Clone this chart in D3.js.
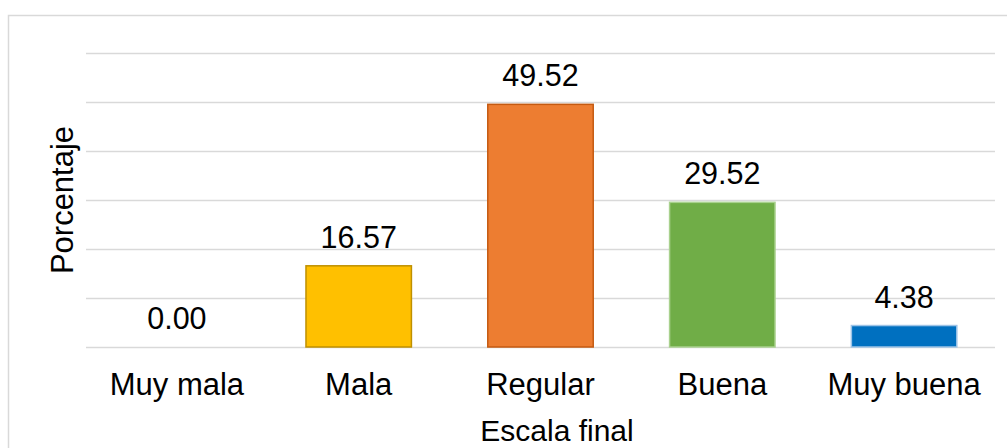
<!DOCTYPE html>
<html>
<head>
<meta charset="utf-8">
<script src="https://cdn.jsdelivr.net/npm/d3@7"></script>
<style>
html,body{margin:0;padding:0;background:#fff;}
svg{display:block;font-family:"Liberation Sans",Arial,sans-serif;}
</style>
</head>
<body>
<svg id="chart" width="1007" height="448"></svg>
<script>
const categories = ["Muy mala", "Mala", "Regular", "Buena", "Muy buena"];
const values = [0.00, 16.57, 49.52, 29.52, 4.38];
const labels = ["0.00", "16.57", "49.52", "29.52", "4.38"];
const colors = ["#FFC000", "#FFC000", "#ED7D31", "#70AD47", "#0070C0"];
const strokes = ["#BF9000", "#BF9000", "#C55A11", "#A9D18E", "#9DC3E6"];
const yTicks = [0, 10, 20, 30, 40, 50, 60];
const xTitle = "Escala final";
const yTitle = "Porcentaje";

const svg = d3.select("#chart");
const plot = {left: 86, right: 995, top: 53, bottom: 347};

// outer chart border
svg.append("rect")
  .attr("x", 8.5).attr("y", 15.5)
  .attr("width", 1020).attr("height", 460)
  .attr("fill", "none").attr("stroke", "#d9d9d9").attr("stroke-width", 1.5);

const x = d3.scaleBand().domain(categories)
  .range([plot.left, plot.right]).paddingInner(0.42).paddingOuter(0.21);
const y = d3.scaleLinear().domain([0, 60]).range([plot.bottom, plot.top]);

// gridlines
svg.append("g").selectAll("line").data(yTicks).join("line")
  .attr("x1", plot.left).attr("x2", plot.right)
  .attr("y1", d => Math.round(y(d)) + 0.5).attr("y2", d => Math.round(y(d)) + 0.5)
  .attr("stroke", "#d9d9d9").attr("stroke-width", 1.5);

// bars
svg.append("g").selectAll("rect").data(values).join("rect")
  .attr("x", (d, i) => x(categories[i]))
  .attr("width", x.bandwidth())
  .attr("y", d => y(d))
  .attr("height", d => y(0) - y(d))
  .attr("fill", (d, i) => colors[i])
  .attr("stroke", (d, i) => strokes[i])
  .attr("stroke-width", 1.5)
  .attr("visibility", d => d > 0 ? "visible" : "hidden");

// data labels
svg.append("g").selectAll("text").data(values).join("text")
  .attr("x", (d, i) => x(categories[i]) + x.bandwidth() / 2)
  .attr("y", d => y(d) - 18)
  .attr("text-anchor", "middle")
  .attr("font-size", 30.5)
  .attr("fill", "#000")
  .text((d, i) => labels[i]);

// x axis category labels
const xAxis = d3.axisBottom(x).tickSize(0).tickPadding(0);
const gx = svg.append("g").attr("transform", `translate(0,${plot.bottom})`).call(xAxis);
gx.select(".domain").remove();
gx.selectAll("text")
  .attr("font-size", 31)
  .attr("font-family", "Liberation Sans, Arial, sans-serif")
  .attr("fill", "#000")
  .attr("dy", null)
  .attr("y", 48);

// axis titles
svg.append("text")
  .attr("x", 557).attr("y", 441)
  .attr("text-anchor", "middle")
  .attr("font-size", 30)
  .attr("fill", "#000")
  .text(xTitle);

svg.append("text")
  .attr("transform", "translate(73,200) rotate(-90)")
  .attr("text-anchor", "middle")
  .attr("font-size", 31)
  .attr("fill", "#000")
  .text(yTitle);
</script>
</body>
</html>
